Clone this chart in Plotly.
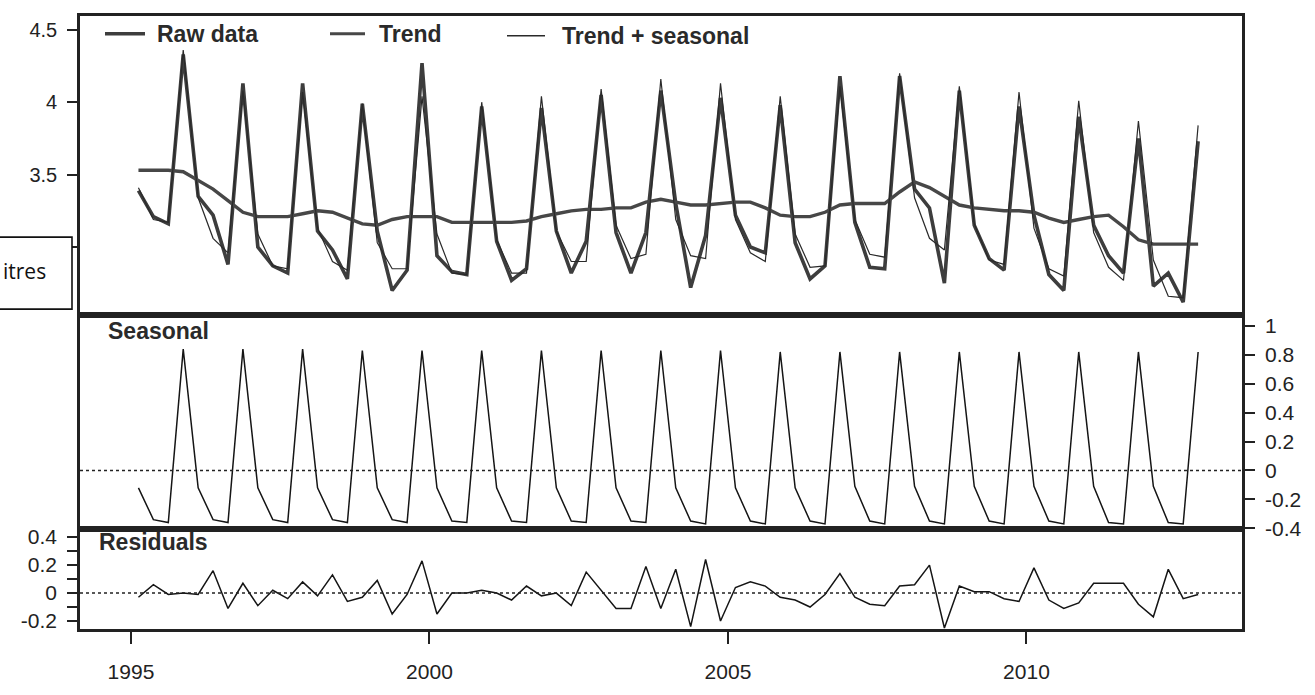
import plotly.graph_objects as go

# ---------------- data (quarterly) ----------------
start_year = 1995.125
quarter_step = 0.25

raw_data = [
    3.39, 3.21, 3.16, 4.33,
    3.35, 3.22, 2.88, 4.13,
    3.00, 2.87, 2.82, 4.13,
    3.11, 2.98, 2.78, 3.99,
    3.11, 2.70, 2.84, 4.27,
    2.94, 2.83, 2.81, 3.97,
    3.04, 2.77, 2.85, 3.96,
    3.11, 2.82, 3.04, 4.05,
    3.10, 2.82, 3.10, 4.08,
    3.30, 2.72, 3.08, 4.03,
    3.22, 3.00, 2.96, 3.98,
    3.03, 2.78, 2.87, 4.18,
    3.17, 2.86, 2.85, 4.18,
    3.40, 3.27, 2.75, 4.08,
    3.15, 2.92, 2.84, 3.97,
    3.22, 2.81, 2.70, 3.90,
    3.15, 2.94, 2.82, 3.75,
    2.73, 2.82, 2.62, 3.73,
]

trend = [
    3.53, 3.53, 3.53, 3.52,
    3.46, 3.40, 3.32, 3.24,
    3.21, 3.21, 3.21, 3.23,
    3.25, 3.24, 3.20, 3.16,
    3.15, 3.19, 3.21, 3.21,
    3.21, 3.17, 3.17, 3.17,
    3.17, 3.17, 3.18, 3.21,
    3.23, 3.25, 3.26, 3.26,
    3.27, 3.27, 3.31, 3.33,
    3.31, 3.29, 3.29, 3.30,
    3.31, 3.31, 3.27, 3.22,
    3.21, 3.21, 3.24, 3.29,
    3.30, 3.30, 3.30, 3.38,
    3.45, 3.41, 3.35, 3.29,
    3.27, 3.26, 3.25, 3.25,
    3.24, 3.20, 3.17, 3.19,
    3.21, 3.22, 3.14, 3.05,
    3.02, 3.02, 3.02, 3.02,
]

seasonal = [
    -0.12, -0.34, -0.36, 0.84,
    -0.12, -0.34, -0.36, 0.84,
    -0.12, -0.34, -0.36, 0.84,
    -0.12, -0.34, -0.36, 0.83,
    -0.12, -0.34, -0.36, 0.83,
    -0.12, -0.35, -0.36, 0.83,
    -0.12, -0.35, -0.36, 0.83,
    -0.12, -0.35, -0.36, 0.83,
    -0.12, -0.35, -0.36, 0.83,
    -0.12, -0.35, -0.37, 0.83,
    -0.12, -0.35, -0.37, 0.82,
    -0.12, -0.35, -0.37, 0.82,
    -0.11, -0.35, -0.37, 0.82,
    -0.11, -0.35, -0.37, 0.82,
    -0.11, -0.35, -0.37, 0.82,
    -0.11, -0.35, -0.37, 0.82,
    -0.11, -0.36, -0.37, 0.82,
    -0.11, -0.36, -0.37, 0.82,
]

residuals = [
    -0.03, 0.06, -0.01, 0.00,
    -0.01, 0.16, -0.11, 0.07,
    -0.09, 0.02, -0.04, 0.08,
    -0.02, 0.13, -0.06, -0.03,
    0.09, -0.15, -0.01, 0.23,
    -0.15, 0.00, 0.00, 0.02,
    0.00, -0.05, 0.05, -0.02,
    0.00, -0.09, 0.15, 0.02,
    -0.11, -0.11, 0.19, -0.11,
    0.17, -0.24, 0.24, -0.20,
    0.04, 0.08, 0.05, -0.03,
    -0.05, -0.10, -0.01, 0.14,
    -0.03, -0.08, -0.09, 0.05,
    0.06, 0.20, -0.25, 0.05,
    0.01, 0.01, -0.04, -0.06,
    0.18, -0.05, -0.11, -0.07,
    0.07, 0.07, 0.07, -0.08,
    -0.17, 0.17, -0.04, -0.01,
]

series_names = ["Raw data", "Trend", "Trend + seasonal"]
panel_titles = ["Seasonal", "Residuals"]
side_label = "itres"

x_ticks = [1995, 2000, 2005, 2010]
x_tick_labels = ["1995", "2000", "2005", "2010"]
top_ticks = [3, 3.5, 4, 4.5]
top_tick_labels = ["", "3.5", "4", "4.5"]
seasonal_ticks = [-0.4, -0.2, 0, 0.2, 0.4, 0.6, 0.8, 1]
seasonal_tick_labels = ["-0.4", "-0.2", "0", "0.2", "0.4", "0.6", "0.8", "1"]
resid_ticks = [-0.2, -0.1, 0, 0.1, 0.2, 0.3, 0.4]
resid_tick_labels = ["-0.2", "", "0", "", "0.2", "", "0.4"]

# derived
time = [start_year + quarter_step * i for i in range(len(raw_data))]
trend_plus_seasonal = [round(t + s, 3) for t, s in zip(trend, seasonal)]

# ---------------- figure ----------------
FONT = "Liberation Sans, Arial, sans-serif"
DARK = "#222222"
W, H = 1315, 695
L, R, T, B = 80, 73, 15, 59
plot_w = W - L - R
plot_h = H - T - B


def px_x(p):
    return (p - L) / plot_w


def px_y(p):
    return (H - B - p) / plot_h


d_res = [0, px_y(535)]
d_sea = [px_y(535), px_y(318)]
d_top = [px_y(318), 1]

fig = go.Figure()

fig.add_trace(go.Scatter(x=time, y=raw_data, mode="lines", name=series_names[0],
                         line=dict(color="#3d3d3d", width=3.6), xaxis="x3", yaxis="y3"))
fig.add_trace(go.Scatter(x=time, y=trend, mode="lines", name=series_names[1],
                         line=dict(color="#474747", width=3.4), xaxis="x3", yaxis="y3"))
fig.add_trace(go.Scatter(x=time, y=trend_plus_seasonal, mode="lines", name=series_names[2],
                         line=dict(color="#2a2a2a", width=1.2), xaxis="x3", yaxis="y3"))
fig.add_trace(go.Scatter(x=time, y=seasonal, mode="lines", name="Seasonal",
                         line=dict(color="#151515", width=1.5), xaxis="x2", yaxis="y2"))
fig.add_trace(go.Scatter(x=time, y=residuals, mode="lines", name="Residuals",
                         line=dict(color="#151515", width=1.5), xaxis="x", yaxis="y"))

x_range = [1994.146, 2013.61]
frame = dict(showline=True, mirror=True, linewidth=2.6, linecolor=DARK,
             showgrid=False, zeroline=False)
tickstyle = dict(ticks="outside", tickwidth=2, tickcolor=DARK,
                 tickfont=dict(family=FONT, size=21, color=DARK))

fig.update_layout(
    width=W, height=H,
    margin=dict(l=L, r=R, t=T, b=B),
    paper_bgcolor="white", plot_bgcolor="white",
    showlegend=False,
    font=dict(family=FONT, color=DARK),
    xaxis=dict(domain=[0, 1], anchor="y", range=x_range, tickvals=x_ticks,
               ticktext=x_tick_labels, ticklen=12, ticklabelstandoff=10, **frame, **tickstyle),
    xaxis2=dict(domain=[0, 1], anchor="y2", range=x_range, matches="x",
                showticklabels=False, ticks="", **frame),
    xaxis3=dict(domain=[0, 1], anchor="y3", range=x_range, matches="x",
                showticklabels=False, ticks="", **frame),
    yaxis=dict(domain=d_res, anchor="x", range=[-0.257, 0.456], tickvals=resid_ticks,
               ticktext=resid_tick_labels, ticklen=10, ticklabelstandoff=6, side="left",
               **frame, **tickstyle),
    yaxis2=dict(domain=d_sea, anchor="x2", range=[-0.407, 1.075], tickvals=seasonal_ticks,
                ticktext=seasonal_tick_labels, ticklen=10, ticklabelstandoff=6, side="right",
                **frame, **tickstyle),
    yaxis3=dict(domain=d_top, anchor="x3", range=[2.53, 4.595], tickvals=top_ticks,
                ticktext=top_tick_labels, ticklen=10, ticklabelstandoff=6, side="left",
                **frame, **tickstyle),
)
fig.update_yaxes(tickfont=dict(size=20), selector=dict(anchor="x3"))

shapes = []
# dotted zero lines
shapes.append(dict(type="line", xref="paper", x0=0, x1=1, yref="y2", y0=0, y1=0,
                   line=dict(color=DARK, width=1.5, dash="dot")))
shapes.append(dict(type="line", xref="paper", x0=0, x1=1, yref="y", y0=0, y1=0,
                   line=dict(color=DARK, width=1.5, dash="dot")))

# legend samples
legend_items = [
    (105, 145, 33, 3.6, "#3d3d3d", 155),
    (330, 365, 33, 3.0, "#474747", 377),
    (507, 545, 35, 1.4, "#2a2a2a", 560),
]
annotations = []
for (xa, xb, yy, lw, col, tx), name in zip(legend_items, series_names):
    shapes.append(dict(type="line", xref="paper", yref="paper",
                       x0=px_x(xa), x1=px_x(xb), y0=px_y(yy), y1=px_y(yy),
                       line=dict(color=col, width=lw)))
    annotations.append(dict(text=f"<b>{name}</b>", xref="paper", yref="paper",
                            x=px_x(tx), y=px_y(yy), xanchor="left", yanchor="middle",
                            showarrow=False, font=dict(family=FONT, size=23, color="#2a2a2a")))

annotations.append(dict(text=f"<b>{panel_titles[0]}</b>", xref="paper", yref="paper",
                        x=px_x(106), y=px_y(334), xanchor="left", yanchor="middle",
                        showarrow=False, font=dict(family=FONT, size=23, color="#2a2a2a")))
annotations.append(dict(text=f"<b>{panel_titles[1]}</b>", xref="paper", yref="paper",
                        x=px_x(97), y=px_y(548), xanchor="left", yanchor="middle",
                        showarrow=False, font=dict(family=FONT, size=23, color="#2a2a2a")))

# boxed side label
shapes.append(dict(type="rect", xref="paper", yref="paper",
                   x0=px_x(-3), x1=px_x(72), y0=px_y(312), y1=px_y(239),
                   line=dict(color="#111111", width=1.6), fillcolor="white", layer="above"))
annotations.append(dict(text=side_label, xref="paper", yref="paper",
                        x=px_x(1), y=px_y(273), xanchor="left", yanchor="middle",
                        showarrow=False, font=dict(family="Open Sans, sans-serif", size=21, color="#111111")))

fig.update_layout(shapes=shapes, annotations=annotations)

fig.write_html("out.html")
